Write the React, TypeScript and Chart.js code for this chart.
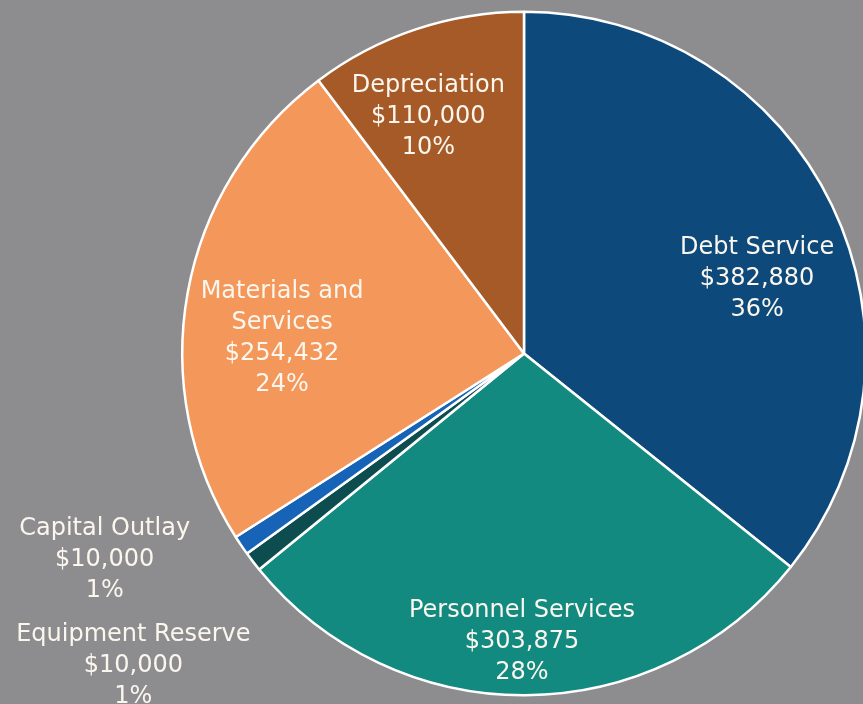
import React, { useEffect, useRef } from "react";
import { Chart, registerables } from "chart.js";

Chart.register(...registerables);

const categories = [
  "Debt Service",
  "Personnel Services",
  "Equipment Reserve",
  "Capital Outlay",
  "Materials and Services",
  "Depreciation",
];
const amounts = [382880, 303875, 10000, 10000, 254432, 110000];
const amountLabels = ["$382,880", "$303,875", "$10,000", "$10,000", "$254,432", "$110,000"];
const percentLabels = ["36%", "28%", "1%", "1%", "24%", "10%"];
const nameLines = [
  ["Debt Service"],
  ["Personnel Services"],
  ["Equipment Reserve"],
  ["Capital Outlay"],
  ["Materials and", "Services"],
  ["Depreciation"],
];

const colors = ["#0d4a7b", "#128a80", "#0d4d4f", "#1763b8", "#f3975b", "#a65a27"];
// label centre offsets in units of pie radius, relative to pie centre
const labelOffsets: [number, number][] = [
  [0.682, -0.219],
  [-0.006, 0.843],
  [-1.143, 0.915],
  [-1.227, 0.603],
  [-0.708, -0.044],
  [-0.28, -0.694],
];

const labelPlugin = {
  id: "sliceLabels",
  afterDraw(chart: any) {
    const ctx = chart.ctx;
    const meta = chart.getDatasetMeta(0);
    const arc = meta.data[0];
    if (!arc) return;
    const cx = arc.x;
    const cy = arc.y;
    const r = arc.outerRadius;
    ctx.save();
    ctx.fillStyle = "#fbf6ee";
    ctx.font = "24px 'DejaVu Sans'";
    ctx.textAlign = "center";
    ctx.textBaseline = "middle";
    const lh = 31;
    categories.forEach((_, i) => {
      const lines = [...nameLines[i], amountLabels[i], percentLabels[i]];
      const x = cx + labelOffsets[i][0] * r;
      const y = cy + labelOffsets[i][1] * r;
      const y0 = y - ((lines.length - 1) * lh) / 2;
      lines.forEach((t, j) => ctx.fillText(t, x, y0 + j * lh));
    });
    ctx.restore();
  },
};

export default function App() {
  const ref = useRef<HTMLCanvasElement>(null);
  useEffect(() => {
    if (!ref.current) return;
    const chart = new Chart(ref.current, {
      type: "pie",
      data: {
        labels: categories,
        datasets: [
          {
            data: amounts,
            backgroundColor: colors,
            borderColor: "#ffffff",
            borderWidth: 2.5,
          },
        ],
      },
      options: {
        animation: false,
        responsive: false,
        maintainAspectRatio: false,
        layout: { padding: { top: 10, bottom: 7, left: 181, right: 13 } },
        plugins: { legend: { display: false }, tooltip: { enabled: false } },
      },
      plugins: [labelPlugin],
    });
    return () => chart.destroy();
  }, []);
  return (
    <div
      style={{
        position: "fixed",
        left: 0,
        top: 0,
        width: 863,
        height: 704,
        overflow: "hidden",
        background: "#8d8d8f",
      }}
    >
      <canvas ref={ref} width={880} height={704} style={{ width: 880, height: 704, display: "block" }} />
    </div>
  );
}
